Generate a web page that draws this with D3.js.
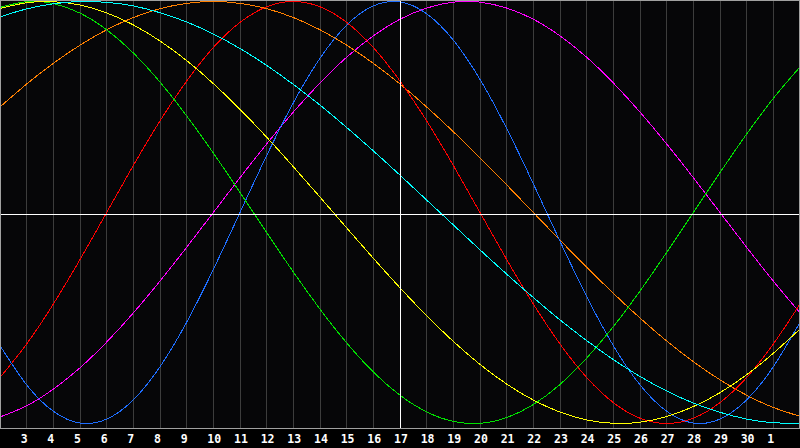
<!DOCTYPE html>
<html>
<head>
<meta charset="utf-8">
<script src="https://cdn.jsdelivr.net/npm/d3@7"></script>
<style>
    html, body { margin: 0; padding: 0; background: #000; }
    svg { display: block; }
</style>
</head>
<body>
<svg id="chart" width="800" height="448"></svg>
<script>
// day labels along the bottom (index 0 and 30 sit on the frame edges)
const days = [2, 3, 4, 5, 6, 7, 8, 9, 10, 11, 12, 13, 14, 15, 16, 17, 18, 19, 20, 21,
    22, 23, 24, 25, 26, 27, 28, 29, 30, 1, 2];
const todayIndex = 15;

// cycle values, one per day (-1 .. 1)
const physical = [-0.631, -0.817, -0.942, -0.998, -0.979, -0.888, -0.731, -0.520, -0.270, 0,
    0.270, 0.520, 0.731, 0.888, 0.979, 0.998, 0.942, 0.817, 0.631, 0.398,
    0.136, -0.136, -0.398, -0.631, -0.817, -0.942, -0.998, -0.979, -0.888, -0.731, -0.520];
const emotional = [-0.782, -0.623, -0.434, -0.223, 0, 0.223, 0.434, 0.623, 0.782, 0.901,
    0.975, 1, 0.975, 0.901, 0.782, 0.623, 0.434, 0.223, 0, -0.223,
    -0.434, -0.623, -0.782, -0.901, -0.975, -1, -0.975, -0.901, -0.782, -0.623, -0.434];
const intellectual = [0.972, 0.999, 0.990, 0.945, 0.866, 0.756, 0.618, 0.458, 0.282, 0.095,
    -0.095, -0.282, -0.458, -0.618, -0.756, -0.866, -0.945, -0.990, -0.999, -0.972,
    -0.910, -0.815, -0.690, -0.541, -0.372, -0.189, 0, 0.189, 0.372, 0.541, 0.690];
const intuitive = [-0.969, -0.916, -0.837, -0.736, -0.614, -0.476, -0.325, -0.165, 0, 0.165,
    0.325, 0.476, 0.614, 0.736, 0.837, 0.916, 0.969, 0.997, 0.997, 0.969,
    0.916, 0.837, 0.736, 0.614, 0.476, 0.325, 0.165, 0, -0.165, -0.325, -0.476];
const aesthetic = [0.967, 0.994, 0.999, 0.983, 0.946, 0.889, 0.813, 0.720, 0.611, 0.489,
    0.357, 0.217, 0.073, -0.073, -0.217, -0.357, -0.489, -0.611, -0.720, -0.813,
    -0.889, -0.946, -0.983, -0.999, -0.994, -0.967, -0.920, -0.854, -0.769, -0.667, -0.552];
const awareness = [0.5, 0.609, 0.707, 0.793, 0.866, 0.924, 0.966, 0.991, 1, 0.991,
    0.966, 0.924, 0.866, 0.793, 0.707, 0.609, 0.5, 0.383, 0.259, 0.131,
    0, -0.131, -0.259, -0.383, -0.5, -0.609, -0.707, -0.793, -0.866, -0.924, -0.966];
const spiritual = [0.927, 0.965, 0.989, 1.000, 0.996, 0.979, 0.947, 0.903, 0.846, 0.777,
    0.697, 0.607, 0.509, 0.403, 0.292, 0.177, 0.059, -0.059, -0.177, -0.292,
    -0.403, -0.509, -0.607, -0.697, -0.777, -0.846, -0.903, -0.947, -0.979, -0.996, -1.000];

const series = [
    {name: "intuitive", values: intuitive, color: "#ff00ff"},
    {name: "awareness", values: awareness, color: "#ff8000"},
    {name: "emotional", values: emotional, color: "#ff0000"},
    {name: "physical", values: physical, color: "#1e6eff"},
    {name: "intellectual", values: intellectual, color: "#00e000"},
    {name: "aesthetic", values: aesthetic, color: "#ffff00"},
    {name: "spiritual", values: spiritual, color: "#00ffff"}
];

const svg = d3.select("#chart");
const W = 800, plotBottom = 428;

const x = d3.scaleLinear().domain([0, days.length - 1]).range([0, W]);
const y = d3.scaleLinear().domain([-1, 1]).range([423.5, 1.5]);

//背景
svg.append("rect")
    .attr("x", 0).attr("y", 0)
    .attr("width", W).attr("height", plotBottom)
    .attr("fill", "#060608");

//网格线
svg.append("g")
    .selectAll("line")
    .data(d3.range(1, days.length - 1).filter(i => i !== todayIndex))
    .join("line")
    .attr("x1", i => Math.floor(x(i)) + 0.5)
    .attr("x2", i => Math.floor(x(i)) + 0.5)
    .attr("y1", 0)
    .attr("y2", plotBottom)
    .attr("stroke", "#3c3c3c")
    .attr("stroke-width", 1)
    .attr("shape-rendering", "crispEdges");

// curves
const line = d3.line()
    .x((d, i) => x(i))
    .y(d => y(d))
    .curve(d3.curveNatural);

svg.append("g")
    .selectAll("path")
    .data(series)
    .join("path")
    .attr("d", d => line(d.values))
    .attr("fill", "none")
    .attr("stroke", d => d.color)
    .attr("stroke-width", 1)
    .attr("shape-rendering", "crispEdges");

// today + zero lines
svg.append("line")
    .attr("x1", 0).attr("x2", W)
    .attr("y1", Math.round(y(0)) + 1.5).attr("y2", Math.round(y(0)) + 1.5)
    .attr("stroke", "#ffffff")
    .attr("shape-rendering", "crispEdges");

svg.append("line")
    .attr("x1", Math.floor(x(todayIndex)) + 0.5).attr("x2", Math.floor(x(todayIndex)) + 0.5)
    .attr("y1", 0).attr("y2", plotBottom)
    .attr("stroke", "#ffffff")
    .attr("shape-rendering", "crispEdges");

// frame
svg.append("rect")
    .attr("x", 0.5).attr("y", 0.5)
    .attr("width", W - 1).attr("height", plotBottom)
    .attr("fill", "none")
    .attr("stroke", "#a0a0a0")
    .attr("shape-rendering", "crispEdges");

// day labels
svg.append("g")
    .selectAll("text")
    .data(d3.range(1, days.length - 1))
    .join("text")
    .attr("x", i => x(i) - 6)
    .attr("y", 443)
    .attr("fill", "#ffffff")
    .attr("font-family", "DejaVu Sans Mono, monospace")
    .attr("font-weight", "bold")
    .attr("font-size", 11.5)
    .text(i => days[i]);
</script>
</body>
</html>
